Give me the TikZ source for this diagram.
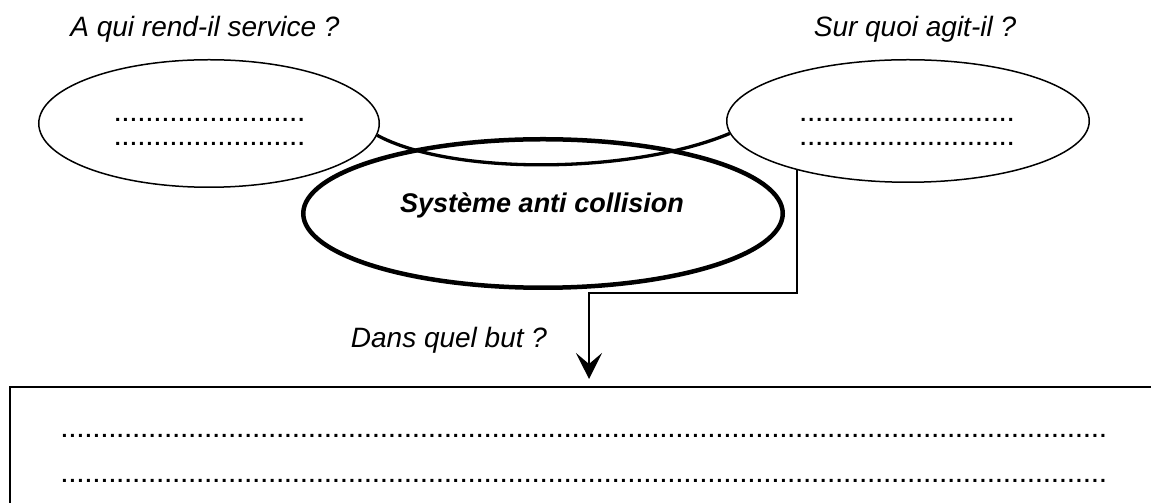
\documentclass[tikz,border=0pt]{standalone}
\usepackage{fontspec}
\setmainfont{Liberation Sans}
\usetikzlibrary{shapes.geometric,arrows.meta}
\ExplSyntaxOn
\cs_new:Npn \mydotrow #1 {\prg_replicate:nn {#1-1} {.\kern2.15pt}.}
\ExplSyntaxOff
\tikzset{
  lbl/.style={font=\fontsize{28}{30}\selectfont\itshape, inner sep=0pt, anchor=base},
  dotrow/.style={font=\fontsize{21}{24}\selectfont\bfseries, inner sep=0pt, anchor=base},
  outer/.style={ellipse, draw, line width=1.5pt, inner sep=0pt},
  sys/.style={ellipse, draw, line width=4.5pt, inner sep=0pt},
  link/.style={line width=3.3pt},
  conn/.style={line width=2pt},
}
\begin{document}
\begin{tikzpicture}[x=1pt,y=1pt]
\useasboundingbox (0,0) rectangle (1151,503);
\clip (0,0) rectangle (1151,503);
\fill[white] (0,0) rectangle (1151,503);

% ellipses
\node[outer, minimum width=340.5pt, minimum height=127.5pt] (L) at (209,379.5) {};
\node[outer, minimum width=362.5pt, minimum height=122.5pt] (R) at (908,382) {};
\node[sys, minimum width=479.5pt, minimum height=148.5pt] (C) at (543,289.5) {};
\node[font=\fontsize{27}{30}\selectfont\bfseries\itshape, inner sep=0pt, anchor=base] (Ct) at (542,290) {Système anti collision};

% bottom box
\node[draw, line width=2pt, anchor=north west, minimum width=1200pt, minimum height=140pt, inner sep=0pt] (B) at (9,117) {};

% link curve between the two outer ellipses
\draw[link] (L.-4) .. controls (450,328) and (630,328) .. (R.184);

% connector to the box
\coordinate (ax) at (589,210);
\draw[conn, -{Stealth[length=26pt,width=26pt,inset=11pt]}, shorten >=7pt]
  (R.204.5) |- (ax) -- (ax |- B.north);

% labels
\node[lbl] (q1) at (205,466) {A qui rend-il service ?};
\node[lbl] (q2) at (915,466) {Sur quoi agit-il ?};
\node[lbl] (q3) at (449,155) {Dans quel but ?};

% dotted placeholders
\node[dotrow] (l1) at (209.5,381.5) {\mydotrow{24}};
\node[dotrow] (l2) at (209.5,357.5) {\mydotrow{24}};
\node[dotrow] (r1) at (907,381.5) {\mydotrow{27}};
\node[dotrow] (r2) at (907,357.5) {\mydotrow{27}};
\node[dotrow] (b1) at (583.5,65.5) {\mydotrow{131}};
\node[dotrow] (b2) at (583.5,20.5) {\mydotrow{131}};
\end{tikzpicture}
\end{document}
